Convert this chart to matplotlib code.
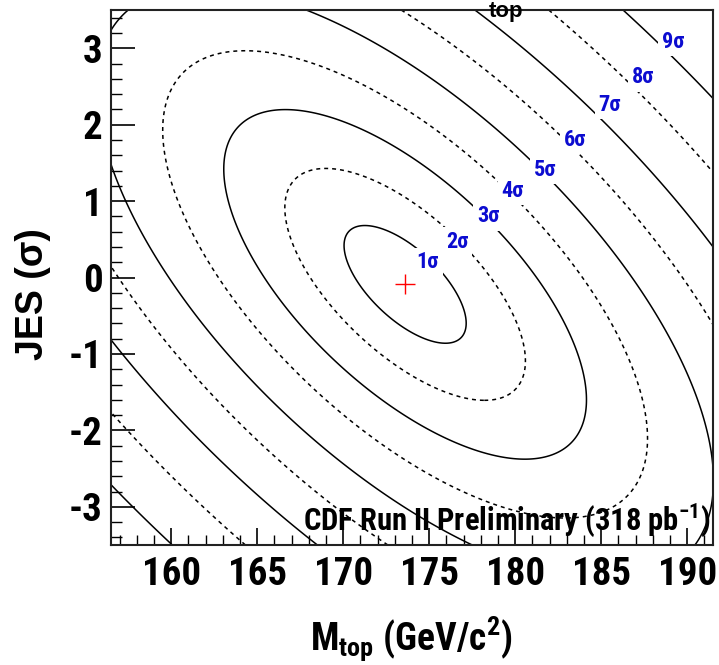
import numpy as np
import matplotlib
matplotlib.use('Agg')
import matplotlib.pyplot as plt
from matplotlib.ticker import MultipleLocator
from matplotlib import font_manager

# ---- data ----
MTOP_RANGE = [156.5, 191.5]
JES_RANGE = [-3.5, 3.5]
FIT_MTOP = 173.6
FIT_JES = -0.09
SIGMA_MTOP = 3.55
SIGMA_JES = 0.77
RHO = -0.66
CONTOUR_LEVELS = [1.0, 1.97, 2.97, 3.97, 5.05, 6.15, 7.3, 8.6, 10.0]
CONTOUR_LABELS = ['1σ', '2σ', '3σ', '4σ', '5σ', '6σ', '7σ', '8σ', '9σ']
CONTOUR_STYLES = ['solid', 'dashed', 'solid', 'dashed', 'solid',
                  'dashed', 'solid', 'dashed', 'solid']
LABEL_MTOP = [174.93, 176.62, 178.42, 179.87, 181.73, 183.48, 185.51, 187.43, 189.17]
LABEL_JES = [0.20, 0.47, 0.80, 1.13, 1.41, 1.80, 2.26, 2.62, 3.08]
XTICKS = [160, 165, 170, 175, 180, 185, 190]
YTICKS = [-3, -2, -1, 0, 1, 2, 3]

plt.rcParams['axes.unicode_minus'] = False
plt.rcParams['lines.dashed_pattern'] = [2.6, 2.6]

installed = {f.name for f in font_manager.fontManager.ttflist}
narrow_candidates = ['Liberation Sans Narrow', 'Roboto Condensed',
                     'Open Sans Condensed', 'DejaVu Sans Condensed',
                     'Roboto', 'Liberation Sans']
NARROW_NAME = next(n for n in narrow_candidates if n in installed)
NARROW = [NARROW_NAME, 'DejaVu Sans']
WIDE = ['Liberation Sans', 'DejaVu Sans']

plt.rcParams['mathtext.fontset'] = 'custom'
plt.rcParams['mathtext.rm'] = NARROW_NAME + ':bold'
plt.rcParams['mathtext.it'] = NARROW_NAME + ':bold'
plt.rcParams['mathtext.bf'] = NARROW_NAME + ':bold'

W, H = 719, 665
fig = plt.figure(figsize=(W / 100, H / 100), dpi=100)
ax = fig.add_axes([111 / W, 1 - 545 / H, 602 / W, 535 / H])

m = np.linspace(MTOP_RANGE[0], MTOP_RANGE[1], 600)
j = np.linspace(JES_RANGE[0], JES_RANGE[1], 600)
M, J = np.meshgrid(m, j)
u = (M - FIT_MTOP) / SIGMA_MTOP
v = (J - FIT_JES) / SIGMA_JES
R = np.sqrt((u ** 2 - 2 * RHO * u * v + v ** 2) / (1 - RHO ** 2))
ax.contour(M, J, R, levels=CONTOUR_LEVELS, colors='black',
           linewidths=1.1, linestyles=CONTOUR_STYLES)

for x, y, lab in zip(LABEL_MTOP, LABEL_JES, CONTOUR_LABELS):
    ax.text(x, y, lab, color='#0c0cd0', fontsize=16, fontweight='bold',
            family=NARROW, ha='center', va='center', zorder=5,
            bbox=dict(boxstyle='square,pad=0.15', fc='white', ec='none'))

ax.plot([FIT_MTOP], [FIT_JES], marker='+', color='red', markersize=14,
        mew=1.0, linestyle='none', zorder=6)

ax.set_xlim(MTOP_RANGE)
ax.set_ylim(JES_RANGE)
ax.set_xticks(XTICKS)
ax.set_yticks(YTICKS)
ax.xaxis.set_minor_locator(MultipleLocator(1))
ax.yaxis.set_minor_locator(MultipleLocator(0.2))
ax.tick_params(axis='x', which='major', direction='in', length=12, width=1.2, pad=8)
ax.tick_params(axis='x', which='minor', direction='in', length=7, width=1.0)
ax.tick_params(axis='y', which='major', direction='in', length=17, width=1.2, pad=6)
ax.tick_params(axis='y', which='minor', direction='in', length=8, width=1.0)
ax.tick_params(top=False, right=False, which='both')
for lbl in ax.get_xticklabels() + ax.get_yticklabels():
    lbl.set_fontfamily(NARROW)
    lbl.set_fontweight('bold')
    lbl.set_fontsize(28)
for sp in ax.spines.values():
    sp.set_linewidth(1.5)
    sp.set_color('#222222')

ax.text(0.995, 1 - (530 - 10) / 535, 'CDF Run II Preliminary (318 pb$^{-1}$)',
        transform=ax.transAxes, ha='right', va='baseline', fontsize=22,
        fontweight='bold', family=NARROW, zorder=7)

fig.text(411 / W, 1 - 650 / H, 'M$_{top}$ (GeV/c$^{2}$)', ha='center',
         va='baseline', fontsize=27, fontweight='bold', family=NARROW)
fig.text(33 / W, 1 - 294 / H, 'JES (σ)', rotation=90, ha='center',
         va='center', fontsize=27, fontweight='bold', family=WIDE)
fig.text(506 / W, 1 - 17 / H, 'top', ha='center', va='baseline',
         fontsize=16, fontweight='bold', family=WIDE)

fig.savefig('out.png', dpi=100)
